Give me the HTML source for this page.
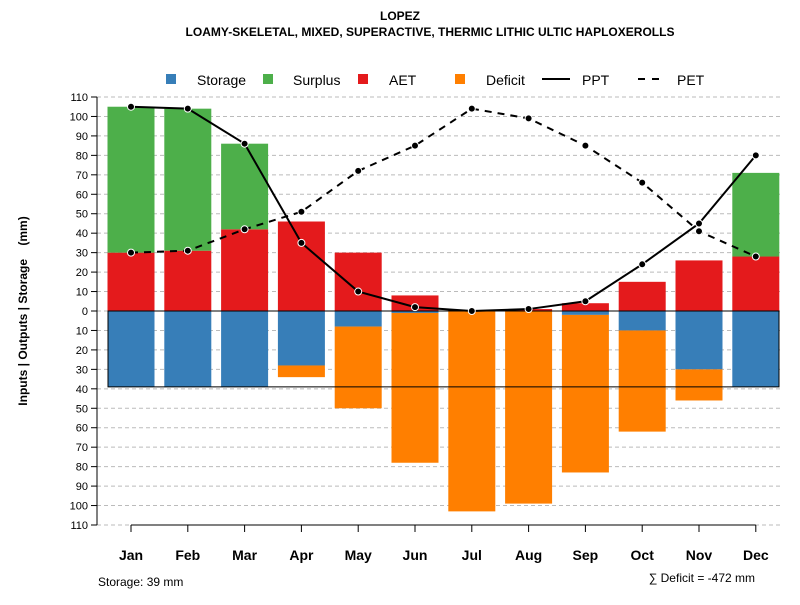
<!DOCTYPE html>
<html><head><meta charset="utf-8"><style>
body{margin:0;background:#fff}
svg{font-family:"Liberation Sans",sans-serif}
</style></head><body>
<svg id="c" width="800" height="600">
<text x="400" y="20" text-anchor="middle" font-size="12" font-weight="bold">LOPEZ</text>
<text x="430" y="36" text-anchor="middle" font-size="12" font-weight="bold">LOAMY-SKELETAL, MIXED, SUPERACTIVE, THERMIC LITHIC ULTIC HAPLOXEROLLS</text>
<g id="grid"></g><g id="bars"></g><g id="lines"></g><g id="axes"></g>
<g id="legend">
<rect x="166" y="74" width="10" height="10" fill="#377eb8"/>
<text x="197" y="85" font-size="14">Storage</text>
<rect x="263" y="74" width="10" height="10" fill="#4daf4a"/>
<text x="293" y="85" font-size="14">Surplus</text>
<rect x="358" y="74" width="10" height="10" fill="#e41a1c"/>
<text x="389" y="85" font-size="14">AET</text>
<rect x="455" y="74" width="10" height="10" fill="#ff7f00"/>
<text x="486" y="85" font-size="14">Deficit</text>
<line x1="542" y1="79" x2="570" y2="79" stroke="#000" stroke-width="2"/>
<text x="582" y="85" font-size="14">PPT</text>
<line x1="638" y1="79" x2="664" y2="79" stroke="#000" stroke-width="2" stroke-dasharray="7,7"/>
<text x="677" y="85" font-size="14">PET</text>
</g>
<text transform="translate(27,311) rotate(-90)" text-anchor="middle" font-size="12" font-weight="bold">Inputs | Outputs | Storage&#160;&#160;&#160;&#160;(mm)</text>
<text x="98" y="586" font-size="12">Storage: 39 mm</text>
<text x="755" y="582" text-anchor="end" font-size="12">∑ Deficit = -472 mm</text>
</svg>
<script>
const months=["Jan","Feb","Mar","Apr","May","Jun","Jul","Aug","Sep","Oct","Nov","Dec"];
const ppt=[105,104,86,35,10,2,0,1,5,24,45,80];
const pet=[30,31,42,51,72,85,104,99,85,66,41,28];
const aet=[30,31,42,46,30,8,0.5,1,4,15,26,28];
const surplus=[75,73,44,0,0,0,0,0,0,0,0,43];
const storage=[39,39,39,28,8,1,0,0,2,10,30,39];
const deficit=[0,0,0,6,42,77,103,99,81,52,16,0];
const yTicks=[-110,-100,-90,-80,-70,-60,-50,-40,-30,-20,-10,0,10,20,30,40,50,60,70,80,90,100,110];
const soilStorage=39;
const NS="http://www.w3.org/2000/svg";
const y=v=>311-v*214/110;
const x=i=>131+i*56.8;
const bw=47;
function mk(p,t,a){const e=document.createElementNS(NS,t);for(const k in a)e.setAttribute(k,a[k]);document.getElementById(p).appendChild(e);return e;}
yTicks.forEach(t=>{
 const g=mk("grid","line",{x1:97,x2:780,y1:y(t),y2:y(t),stroke:"#bbb","stroke-dasharray":"4,3"});
 
 
 const tk=mk("axes","line",{x1:91,x2:97,y1:y(t),y2:y(t),stroke:"#000"});
 
 
 const l=mk("axes","text",{x:88,y:y(t)+4,"text-anchor":"end","font-size":11});
 l.textContent=Math.abs(t);
 
 
});
const ya=mk("axes","line",{x1:97,x2:97,y1:y(110),y2:y(-110),stroke:"#000"});


const xa=mk("axes","line",{x1:x(0),x2:x(11),y1:y(-110),y2:y(-110),stroke:"#000"});


months.forEach((m,i)=>{
 const cx=x(i);
 const r1=mk("bars","rect",{x:cx-bw/2,y:y(aet[i]),width:bw,height:y(0)-y(aet[i]),fill:"#e41a1c"});
 
 
 if(surplus[i]>0){const r=mk("bars","rect",{x:cx-bw/2,y:y(aet[i]+surplus[i]),width:bw,height:y(aet[i])-y(aet[i]+surplus[i]),fill:"#4daf4a"});
 
 }
 const r2=mk("bars","rect",{x:cx-bw/2,y:y(0),width:bw,height:y(-storage[i])-y(0),fill:"#377eb8"});
 
 
 if(deficit[i]>0){const r=mk("bars","rect",{x:cx-bw/2,y:y(-storage[i]),width:bw,height:y(-storage[i]-deficit[i])-y(-storage[i]),fill:"#ff7f00"});
 
 }
 const tk=mk("axes","line",{x1:cx,x2:cx,y1:y(-110),y2:y(-110)+7,stroke:"#000"});
 
 
 const l=mk("axes","text",{x:cx,y:560,"text-anchor":"middle","font-size":14,"font-weight":"bold"});
 l.textContent=m;
 
 
});
const box=mk("bars","rect",{x:108,y:y(0),width:671,height:y(-soilStorage)-y(0),fill:"none",stroke:"#000","stroke-width":1});


function series(arr,dash,name){
 const pl=mk("lines","polyline",{points:arr.map((v,i)=>x(i)+","+y(v)).join(" "),fill:"none",stroke:"#000","stroke-width":2,"stroke-dasharray":dash});
 
 
 arr.forEach((v,i)=>{const c=mk("lines","circle",{cx:x(i),cy:y(v),r:3.5,fill:"#000",stroke:"#fff","stroke-width":1});
 
 });
}
series(pet,"7,6","pet");
series(ppt,"none","ppt");
</script>
</body></html>
